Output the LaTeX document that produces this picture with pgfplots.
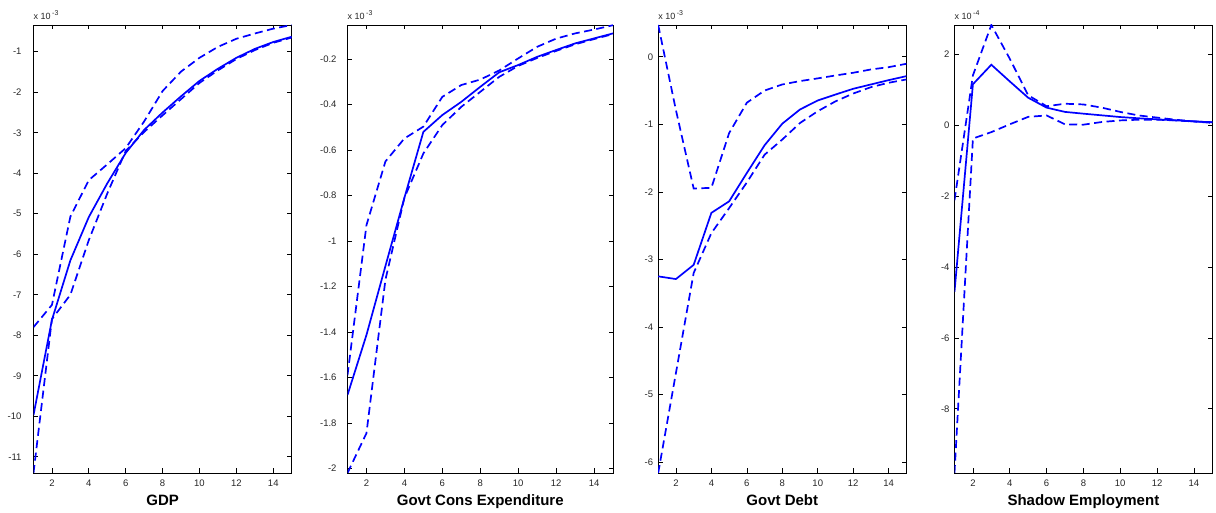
\documentclass[border=0pt]{standalone}
\usepackage{fontspec}
\setmainfont{Liberation Sans}
\usepackage{pgfplots}
\pgfplotsset{compat=1.18}
\definecolor{irfblue}{RGB}{0,0,255}
\pgfplotsset{
  irf/.style={
    scale only axis, height=448pt, anchor=south west,
    xmin=1, xmax=15, xtick={2,4,...,14},
    tick align=inside, major tick length=4.5pt,
    axis line style={line width=0.9pt, black},
    every tick/.style={black, line width=0.7pt},
    tick label style={font=\fontsize{9.5}{11}\selectfont, text=black!85},
    /pgf/number format/assume math mode=true,
    xticklabel style={anchor=base, yshift=-14pt},
    xlabel style={at={(axis description cs:0.5,0)}, anchor=base, yshift=-33pt, font=\fontsize{15}{18}\selectfont\bfseries},
    every axis plot/.append style={irfblue, line width=1.7pt},
    clip mode=individual,
  },
  med/.style={solid},
  band/.style={dash pattern=on 8pt off 4.5pt},
}
\newcommand{\scalelab}[2]{\node[anchor=base west, inner sep=0, font=\fontsize{9}{10}\selectfont, text=black!85] at ([yshift=5pt]#1.north west) {x 10\,\raisebox{4.5pt}{\fontsize{7}{8}\selectfont #2}};}
\begin{document}
\begin{tikzpicture}
\useasboundingbox (0,0) rectangle (1216pt,513pt);
% ---------------- GDP ----------------
\begin{axis}[irf, name=a1, at={(33.5pt,40pt)}, width=258.2pt,
  ymin=-11.4, ymax=-0.34, ytick={-11,-10,...,-1},
  yticklabel style={xshift=-8.5pt}, xlabel={GDP}]
\addplot[med] coordinates {(1,-9.97)(2,-7.62)(3,-6.15)(4,-5.08)(5,-4.25)(6,-3.5)(7,-2.93)(8,-2.5)(9,-2.1)(10,-1.72)(11,-1.42)(12,-1.15)(13,-0.93)(14,-0.76)(15,-0.63)};
\addplot[band] coordinates {(1,-7.8)(2,-7.25)(3,-5.07)(4,-4.17)(5,-3.78)(6,-3.38)(7,-2.72)(8,-1.97)(9,-1.49)(10,-1.15)(11,-0.88)(12,-0.68)(13,-0.55)(14,-0.43)(15,-0.34)};
\addplot[band] coordinates {(1,-11.4)(2,-7.6)(3,-7.0)(4,-5.65)(5,-4.5)(6,-3.45)(7,-2.98)(8,-2.57)(9,-2.17)(10,-1.77)(11,-1.46)(12,-1.18)(13,-0.96)(14,-0.78)(15,-0.65)};
\end{axis}
\scalelab{a1}{-3}
% ---------------- Govt Cons Expenditure ----------------
\begin{axis}[irf, name=a2, at={(347.5pt,40pt)}, width=265.5pt,
  ymin=-2.02, ymax=-0.05, ytick={-2,-1.8,...,-0.1},
  yticklabel style={xshift=-7.5pt}, xlabel={Govt Cons Expenditure}]
\addplot[med] coordinates {(1,-1.677)(2,-1.413)(3,-1.11)(4,-0.81)(5,-0.52)(6,-0.446)(7,-0.388)(8,-0.322)(9,-0.258)(10,-0.226)(11,-0.19)(12,-0.16)(13,-0.131)(14,-0.109)(15,-0.087)};
\addplot[band] coordinates {(1,-1.59)(2,-0.93)(3,-0.65)(4,-0.549)(5,-0.497)(6,-0.366)(7,-0.314)(8,-0.29)(9,-0.25)(10,-0.197)(11,-0.146)(12,-0.11)(13,-0.087)(14,-0.07)(15,-0.051)};
\addplot[band] coordinates {(1,-2.02)(2,-1.845)(3,-1.17)(4,-0.81)(5,-0.615)(6,-0.49)(7,-0.41)(8,-0.344)(9,-0.278)(10,-0.23)(11,-0.195)(12,-0.164)(13,-0.135)(14,-0.112)(15,-0.09)};
\end{axis}
\scalelab{a2}{-3}
% ---------------- Govt Debt ----------------
\begin{axis}[irf, name=a3, at={(658.2pt,40pt)}, width=248.2pt,
  ymin=-6.16, ymax=0.47, ytick={-6,-5,...,0},
  yticklabel style={xshift=-1.5pt}, xlabel={Govt Debt}]
\addplot[med] coordinates {(1,-3.25)(2,-3.29)(3,-3.08)(4,-2.31)(5,-2.14)(6,-1.72)(7,-1.31)(8,-0.99)(9,-0.78)(10,-0.647)(11,-0.559)(12,-0.474)(13,-0.41)(14,-0.346)(15,-0.287)};
\addplot[band] coordinates {(1,0.47)(2,-0.79)(3,-1.95)(4,-1.94)(5,-1.13)(6,-0.68)(7,-0.5)(8,-0.41)(9,-0.36)(10,-0.32)(11,-0.277)(12,-0.237)(13,-0.188)(14,-0.154)(15,-0.104)};
\addplot[band] coordinates {(1,-6.16)(2,-4.68)(3,-3.2)(4,-2.61)(5,-2.24)(6,-1.86)(7,-1.45)(8,-1.225)(9,-0.98)(10,-0.806)(11,-0.66)(12,-0.544)(13,-0.45)(14,-0.385)(15,-0.336)};
\end{axis}
\scalelab{a3}{-3}
% ---------------- Shadow Employment ----------------
\begin{axis}[irf, name=a4, at={(954.5pt,40pt)}, width=257.8pt,
  ymin=-9.81, ymax=2.82, ytick={-8,-6,...,2},
  yticklabel style={xshift=-1.5pt}, xlabel={Shadow Employment}]
\addplot[med] coordinates {(1,-4.7)(2,1.15)(3,1.70)(4,1.23)(5,0.77)(6,0.49)(7,0.37)(8,0.32)(9,0.273)(10,0.225)(11,0.19)(12,0.16)(13,0.132)(14,0.104)(15,0.076)};
\addplot[band] coordinates {(1,-2.12)(2,1.40)(3,2.82)(4,1.87)(5,0.84)(6,0.53)(7,0.60)(8,0.58)(9,0.49)(10,0.37)(11,0.27)(12,0.21)(13,0.15)(14,0.10)(15,0.06)};
\addplot[band] coordinates {(1,-9.81)(2,-0.38)(3,-0.2)(4,0.02)(5,0.23)(6,0.27)(7,0.02)(8,0.01)(9,0.085)(10,0.13)(11,0.15)(12,0.15)(13,0.13)(14,0.10)(15,0.08)};
\end{axis}
\scalelab{a4}{-4}
\end{tikzpicture}
\end{document}
